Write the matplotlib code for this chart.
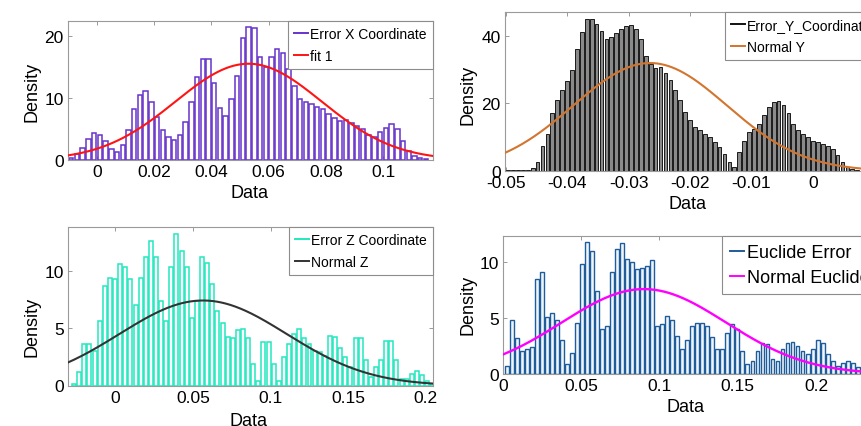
import numpy as np
import matplotlib
matplotlib.use("Agg")
import matplotlib.pyplot as plt
from matplotlib.lines import Line2D
from matplotlib import font_manager

# ---------------------------------------------------------------- data
# Error X coordinate histogram (density per bin) and its normal fit
x_bin_start = -0.010
x_bin_width = 0.002
x_density = [0.3, 1.0, 2.0, 3.4, 4.4, 4.1, 3.0, 1.8, 1.3, 2.4,
             4.9, 8.2, 10.6, 11.1, 9.4, 7.0, 4.8, 3.7, 3.3, 4.0,
             6.1, 9.4, 13.4, 16.4, 16.4, 12.4, 8.4, 7.2, 9.8, 13.6,
             19.8, 21.6, 21.4, 16.6, 15.0, 16.6, 17.9, 17.4, 14.7, 11.9,
             9.9, 9.4, 9.0, 8.6, 8.2, 7.5, 6.8, 6.3, 6.5, 6.0,
             5.5, 5.0, 4.0, 3.7, 4.5, 5.2, 5.9, 5.0, 3.0, 1.5,
             0.6, 0.3, 0.2]
x_fit_mu, x_fit_sigma = 0.053, 0.0256

# Error Y coordinate histogram and normal fit
y_bin_start = -0.0500
y_bin_width = 0.0008
y_density = [0.2, 0.2, 0.2, 0.2, 0.3, 1.0, 2.6, 7.5, 11, 17,
             21, 24, 26.5, 30, 36, 41, 45, 45, 43.5, 41.5,
             39, 39.5, 40.8, 42, 43, 43.3, 42, 39, 34, 31.5,
             30.5, 30.6, 29, 26.8, 24, 21, 17.5, 15, 13, 12,
             11, 10, 8.6, 7, 5, 2.6, 1.2, 5.5, 9, 11.5,
             12.5, 14, 16.5, 18.8, 20.5, 20.8, 19.5, 17, 14, 12,
             10.8, 10, 9, 8.5, 8, 7.3, 6.5, 4.8, 2.6, 1.2,
             0.6, 0.4]
y_fit_mu, y_fit_sigma = -0.0265, 0.0125

# Error Z coordinate histogram and normal fit
z_bin_start = -0.0283
z_bin_width = 0.0033
z_density = [0.1, 1.2, 3.6, 3.6, 3.0, 5.6, 8.7, 9.4, 9.3, 10.6,
             10.3, 9.3, 7.0, 9.4, 11.2, 12.6, 11.2, 7.4, 5.6, 10.3,
             13.2, 11.7, 10.3, 5.9, 7.4, 11.2, 10.7, 8.8, 6.5, 5.4,
             4.2, 4.1, 4.8, 4.9, 4.1, 1.9, 0.4, 3.8, 3.8, 1.9,
             0.4, 2.5, 3.6, 4.5, 4.9, 4.1, 3.6, 3.0, 2.9, 2.6,
             4.3, 4.2, 3.3, 2.5, 1.6, 4.1, 4.1, 2.2, 0.7, 1.6,
             2.2, 3.9, 3.9, 2.2, 0.6, 0.6, 1.0, 1.3, 0.9, 0.4,
             0.15]
z_fit_mu, z_fit_sigma = 0.0565, 0.0539

# Euclidean error histogram and normal fit
e_bin_start = 0.001
e_bin_width = 0.0032
e_density = [0.75, 4.85, 3.2, 2.1, 2.2, 2.4, 8.5, 9.1, 5.1, 5.5,
             4.8, 3.0, 0.9, 1.9, 4.6, 9.8, 11.8, 11.0, 7.4, 4.0,
             4.3, 9.1, 11.2, 11.7, 10.3, 10.0, 9.4, 9.5, 9.7, 10.2,
             4.3, 4.5, 5.2, 4.8, 3.4, 2.2, 3.0, 4.3, 4.6, 4.6,
             4.3, 3.3, 2.2, 2.2, 3.7, 4.5, 4.0, 2.1, 0.9, 1.2,
             2.1, 2.8, 2.7, 1.3, 1.2, 2.2, 2.8, 2.9, 2.5, 2.1,
             1.8, 2.2, 3.0, 2.8, 1.8, 1.2, 0.75, 1.0, 1.2, 1.0,
             0.6, 0.3]
e_fit_mu, e_fit_sigma = 0.090, 0.0525

x_ticks = [0, 0.02, 0.04, 0.06, 0.08, 0.1]
y_ticks = [-0.05, -0.04, -0.03, -0.02, -0.01, 0]
z_ticks = [0, 0.05, 0.1, 0.15, 0.2]
e_ticks = [0, 0.05, 0.1, 0.15, 0.2]

# ---------------------------------------------------------------- style
W, H = 861, 427
plt.rcParams["font.family"] = ["Liberation Sans", "DejaVu Sans"]
plt.rcParams["axes.unicode_minus"] = False

_installed = {f.name for f in font_manager.fontManager.ttflist}
if "Liberation Sans Narrow" in _installed:
    LEG_FAMILY, LEG_SIZE = ["Liberation Sans Narrow", "Liberation Sans"], 11
else:
    LEG_FAMILY, LEG_SIZE = ["Liberation Sans"], 10

fig = plt.figure(figsize=(W / 100, H / 100), dpi=100)
fig.patch.set_facecolor("white")


def fx(px):
    return px / W


def fy(py):
    return 1 - py / H


def make_axes(left, top, right, bottom):
    return fig.add_axes([fx(left), fy(bottom), (right - left) / W, (bottom - top) / H])


def normal_pdf(x, mu, sigma):
    return np.exp(-0.5 * ((x - mu) / sigma) ** 2) / (sigma * np.sqrt(2 * np.pi))


def draw_panel(ax, start, width, heights, face, edge, bar_lw, frac,
               mu, sigma, curve_color, curve_lw, xlim, ylim, xticks, yticks):
    heights = np.asarray(heights, dtype=float)
    lefts = start + width * np.arange(len(heights))
    ax.bar(lefts + width * (1 - frac) / 2, heights, width=width * frac,
           align="edge", color=face, edgecolor=edge, linewidth=bar_lw, zorder=2)
    xs = np.linspace(xlim[0], xlim[1], 500)
    ax.plot(xs, normal_pdf(xs, mu, sigma), color=curve_color, lw=curve_lw, zorder=3)
    ax.set_xlim(*xlim)
    ax.set_ylim(*ylim)
    ax.set_xticks(xticks)
    ax.set_xticklabels(["%g" % t for t in xticks])
    ax.set_yticks(yticks)
    ax.tick_params(direction="in", length=3, width=0.6, color="#8a8a8a",
                   labelsize=12.5, pad=3, top=True, right=True)
    for sp in ax.spines.values():
        sp.set_color("#9a9a9a")
        sp.set_linewidth(0.8)


def label_axes(ax, xlabel_px, ylabel_px):
    ax.set_xlabel("Data", fontsize=13)
    ax.xaxis.set_label_coords(fx(xlabel_px[0]), fy(xlabel_px[1]), transform=fig.transFigure)
    ax.xaxis.label.set_va("center")
    ax.set_ylabel("Density", fontsize=13)
    ax.yaxis.set_label_coords(fx(ylabel_px[0]), fy(ylabel_px[1]), transform=fig.transFigure)
    ax.yaxis.label.set_va("center")


def add_legend(ax, labels, colors, anchor_px, loc, family, size, hlen, lspace, bpad):
    handles = [Line2D([], [], color=c, lw=1.4) for c in colors]
    leg = ax.legend(handles, labels, loc=loc,
                    bbox_to_anchor=(fx(anchor_px[0]), fy(anchor_px[1])),
                    bbox_transform=fig.transFigure, borderaxespad=0,
                    prop={"family": family, "size": size},
                    frameon=True, fancybox=False, framealpha=1,
                    edgecolor="#8c8c8c", handlelength=hlen, handletextpad=0.15,
                    labelspacing=lspace, borderpad=bpad)
    leg.get_frame().set_linewidth(0.8)
    leg.set_zorder(5)


# ---------------------------------------------------------------- panels
ax1 = make_axes(68, 22, 433, 161)
draw_panel(ax1, x_bin_start, x_bin_width, x_density, "white", "#6633CC", 1.1, 0.78,
           x_fit_mu, x_fit_sigma, "#FF1414", 1.5,
           (-0.01014, 0.11748), (0, 22.5), x_ticks, [0, 10, 20])
label_axes(ax1, (249.5, 194), (32, 92))
add_legend(ax1, ["Error X Coordinate", "fit 1"], ["#6633CC", "#FF1414"],
           (433, 22), "upper right", LEG_FAMILY, LEG_SIZE, 1.0, 0.55, 0.45)

ax2 = make_axes(505, 13, 870, 172)
draw_panel(ax2, y_bin_start, y_bin_width, y_density, "#8A8A8A", "#1A1A1A", 0.7, 0.76,
           y_fit_mu, y_fit_sigma, "#D2752F", 1.5,
           (-0.0501, 0.00927), (0, 47), y_ticks, [0, 20, 40])
label_axes(ax2, (688, 205), (467.5, 95))
add_legend(ax2, ["Error_Y_Coordinate", "Normal Y"], ["#111111", "#D2752F"],
           (725, 13), "upper left", LEG_FAMILY, LEG_SIZE, 1.0, 0.55, 0.45)

ax3 = make_axes(68, 228, 433, 386.5)
draw_panel(ax3, z_bin_start, z_bin_width, z_density, "white", "#22E8BE", 1.1, 0.78,
           z_fit_mu, z_fit_sigma, "#333333", 1.5,
           (-0.0306, 0.2048), (0, 13.8), z_ticks, [0, 5, 10])
label_axes(ax3, (248.5, 422), (32.5, 326.7))
add_legend(ax3, ["Error Z Coordinate", "Normal Z"], ["#22E8BE", "#333333"],
           (433, 228), "upper right", LEG_FAMILY, LEG_SIZE, 1.0, 0.55, 0.45)

ax4 = make_axes(503, 237, 875, 375)
draw_panel(ax4, e_bin_start, e_bin_width, e_density, "#EEF6FC", "#1F5C9A", 1.0, 0.78,
           e_fit_mu, e_fit_sigma, "#FF00FF", 1.7,
           (0.0, 0.2377), (0, 12.35), e_ticks, [0, 5, 10])
label_axes(ax4, (686, 407.5), (468, 305))
add_legend(ax4, ["Euclide Error", "Normal Euclide"], ["#1F5C9A", "#FF00FF"],
           (721.7, 237), "upper left", ["Liberation Sans"], 13, 0.8, 0.45, 0.45)

fig.savefig("out.png", dpi=100, facecolor="white")
